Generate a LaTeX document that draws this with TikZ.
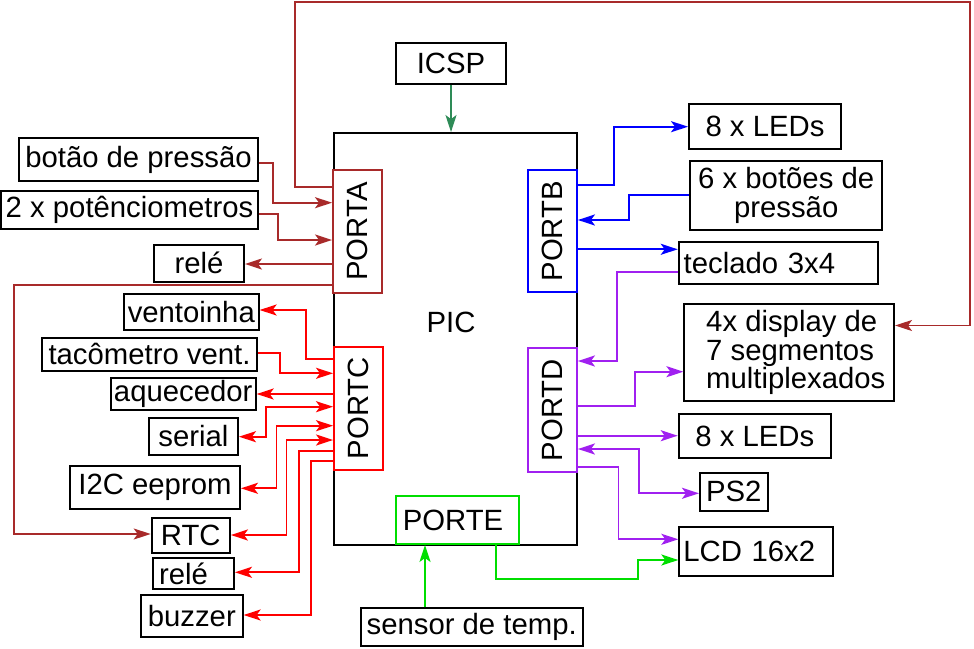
\documentclass[tikz,border=0pt]{standalone}
\usepackage{fontspec}
\setmainfont{Liberation Sans}
\usetikzlibrary{arrows.meta}
\definecolor{brn}{RGB}{168,42,42}
\definecolor{rd}{RGB}{255,0,0}
\definecolor{bl}{RGB}{0,0,255}
\definecolor{pur}{RGB}{160,32,240}
\definecolor{grn}{RGB}{0,222,0}
\definecolor{sea}{RGB}{46,139,87}
\tikzset{
  box/.style={draw=black, line width=1.9pt, inner sep=0pt, fill=white, font=\fontsize{29.3}{28.4}\selectfont},
  portbox/.style={draw=#1, line width=1.9pt, inner sep=0pt, fill=white},
  lbl/.style={inner sep=0pt, font=\fontsize{29.3}{28.4}\selectfont},
  tip/.tip={Stealth[length=17pt,width=11pt,inset=4pt]},
  conn/.style={line width=1.9pt, -tip},
  both/.style={line width=1.9pt, tip-tip},
}
\begin{document}
\begin{tikzpicture}[x=1pt,y=-1pt]
\useasboundingbox (0,0) rectangle (974,648);
% PIC
\node[box, minimum width=243pt, minimum height=412pt] (pic) at (455.5,339) {};
\node[lbl] (picL) at (451,322) {PIC};
% ports
\node[portbox=brn, minimum width=49pt, minimum height=123pt] (porta) at (357.5,231.5) {};
\node[lbl, rotate=90] (portaL) at (porta) {PORTA};
\node[portbox=rd, minimum width=49pt, minimum height=123.3pt] (portc) at (358.5,408.3) {};
\node[lbl, rotate=90] (portcL) at (portc) {PORTC};
\node[portbox=bl, minimum width=48.7pt, minimum height=122.3pt] (portb) at (552.6,231.2) {};
\node[lbl, rotate=90] (portbL) at (portb) {PORTB};
\node[portbox=pur, minimum width=48.7pt, minimum height=123.4pt] (portd) at (552.6,410) {};
\node[lbl, rotate=90] (portdL) at (portd) {PORTD};
\node[portbox=grn, minimum width=123pt, minimum height=48pt] (porte) at (457.2,520) {};
\node[lbl] (porteL) at (453,520) {PORTE};
% boxes
\node[box, minimum width=110pt, minimum height=41.6pt] (icsp) at (451,63.5) {ICSP};
\node[box, minimum width=239pt, minimum height=42.4pt] (bp) at (138.5,159.5) {botão de pressão};
\node[box, minimum width=257pt, minimum height=38pt] (pot) at (129.5,210) {2 x potênciometros};
\node[box, minimum width=90pt, minimum height=36.7pt] (rele1) at (199,263.3) {relé};
\node[box, minimum width=134.7pt, minimum height=36pt] (vent) at (191.3,312) {ventoinha};
\node[box, minimum width=215pt, minimum height=32.7pt] (tac) at (149.5,354.3) {tacômetro vent.\ };
\node[box, minimum width=145pt, minimum height=32.3pt] (aq) at (183.2,393.8) {aquecedor};
\node[box, minimum width=89pt, minimum height=37pt] (serial) at (193.5,436.5) {serial};
\node[box, minimum width=170pt, minimum height=43pt] (i2c) at (155,487.5) {I2C eeprom};
\node[box, minimum width=78.3pt, minimum height=35pt] (rtc) at (190.8,535.2) {RTC};
\node[box, minimum width=81pt, minimum height=31.3pt, text width=69pt, align=left, inner xsep=6pt] (rele2) at (193.5,573.7) {relé};
\node[box, minimum width=101.7pt, minimum height=42.3pt] (buzz) at (191.8,616.2) {buzzer};
\node[box, minimum width=152pt, minimum height=44.7pt] (led1) at (765,126.3) {8 x LEDs};
\node[box, minimum width=192.3pt, minimum height=69pt, align=center] (bot) at (786.2,195.5) {6 x botões de\\pressão};
\node[box, minimum width=199pt, minimum height=42.3pt, text width=189pt, align=left, inner xsep=5pt] (tec) at (778.2,262.8) {teclado 3x4};
\node[box, minimum width=209.7pt, minimum height=96.7pt, text width=166pt, align=flush left] (disp) at (789.2,352.7) {\mbox{4x display de}\\\mbox{7 segmentos}\\\mbox{multiplexados}};
\node[box, minimum width=152.3pt, minimum height=44.3pt] (led2) at (754.8,436.2) {8 x LEDs};
\node[box, minimum width=67.7pt, minimum height=38pt] (ps2) at (733.8,491.7) {PS2};
\node[box, minimum width=154pt, minimum height=49.3pt, text width=146pt, align=left, inner xsep=4pt] (lcd) at (756.3,551.3) {LCD 16x2};
\node[box, minimum width=222pt, minimum height=37.7pt] (sens) at (471.7,627.2) {sensor de temp.};
% ICSP
\draw[conn, sea, line width=1.5pt] (icsp.south) -- (icsp.south |- pic.north);
% PORTA (brown)
\draw[conn, brn] (porta.west |- 0,186.7) -- (295,186.7) -- (295,2) -- (970,2) -- (970,325.5) -- (disp.east |- 0,325.5);
\draw[conn, brn] (bp.east |- 0,162.7) -- (272.7,162.7) |- (porta.west |- 0,202.7);
\draw[conn, brn] (pot.east |- 0,214.3) -- (278,214.3) |- (porta.west |- 0,240);
\draw[conn, brn] (porta.west |- 0,264) -- (rele1.east |- 0,264);
\draw[conn, brn] (porta.west |- 0,285) -- (14,285) |- (rtc.west |- 0,534);
% PORTC (red)
\draw[conn, rd] (portc.west |- 0,359) -- (306,359) -- (306,310) -- (vent.east |- 0,310);
\draw[conn, rd] (tac.east |- 0,352.7) -- (280,352.7) |- (portc.west |- 0,373.3);
\draw[conn, rd] (portc.west |- 0,394) -- (aq.east |- 0,394);
\draw[both, rd] (serial.east |- 0,436.7) -- (265.7,436.7) |- (portc.west |- 0,406.7);
\draw[both, rd] (i2c.east |- 0,488.3) -- (276.5,488.3) |- (portc.west |- 0,425.7);
\draw[both, rd] (rtc.east |- 0,535) -- (286.5,535) |- (portc.west |- 0,440);
\draw[conn, rd] (portc.west |- 0,450.7) -- (299.3,450.7) |- (rele2.east |- 0,572.3);
\draw[conn, rd] (portc.west |- 0,460.7) -- (311,460.7) |- (buzz.east |- 0,615);
% PORTB (blue)
\draw[conn, bl] (portb.east |- 0,185) -- (614.3,185) |- (led1.west |- 0,126.7);
\draw[conn, bl] (bot.west |- 0,195.3) -- (629.3,195.3) |- (portb.east |- 0,220);
\draw[conn, bl] (portb.east |- 0,249.3) -- (tec.west |- 0,249.3);
% PORTD (purple)
\draw[conn, pur] (tec.west |- 0,272.3) -- (617.3,272.3) |- (portd.east |- 0,361);
\draw[conn, pur] (portd.east |- 0,405.7) -- (635,405.7) |- (disp.west |- 0,371.7);
\draw[conn, pur] (portd.east |- 0,435.7) -- (led2.west |- 0,435.7);
\draw[both, pur] (portd.east |- 0,449) -- (639.3,449) |- (ps2.west |- 0,493.3);
\draw[conn, pur] (portd.east |- 0,466.7) -- (618.5,466.7) |- (lcd.west |- 0,539.3);
% PORTE (green)
\draw[conn, grn] (sens.north -| 425,0) -- (porte.south -| 425,0);
\draw[conn, grn] (porte.south -| 496,0) -- (496,578.7) -| (637.7,560) -- (lcd.west |- 0,560);
\end{tikzpicture}
\end{document}
